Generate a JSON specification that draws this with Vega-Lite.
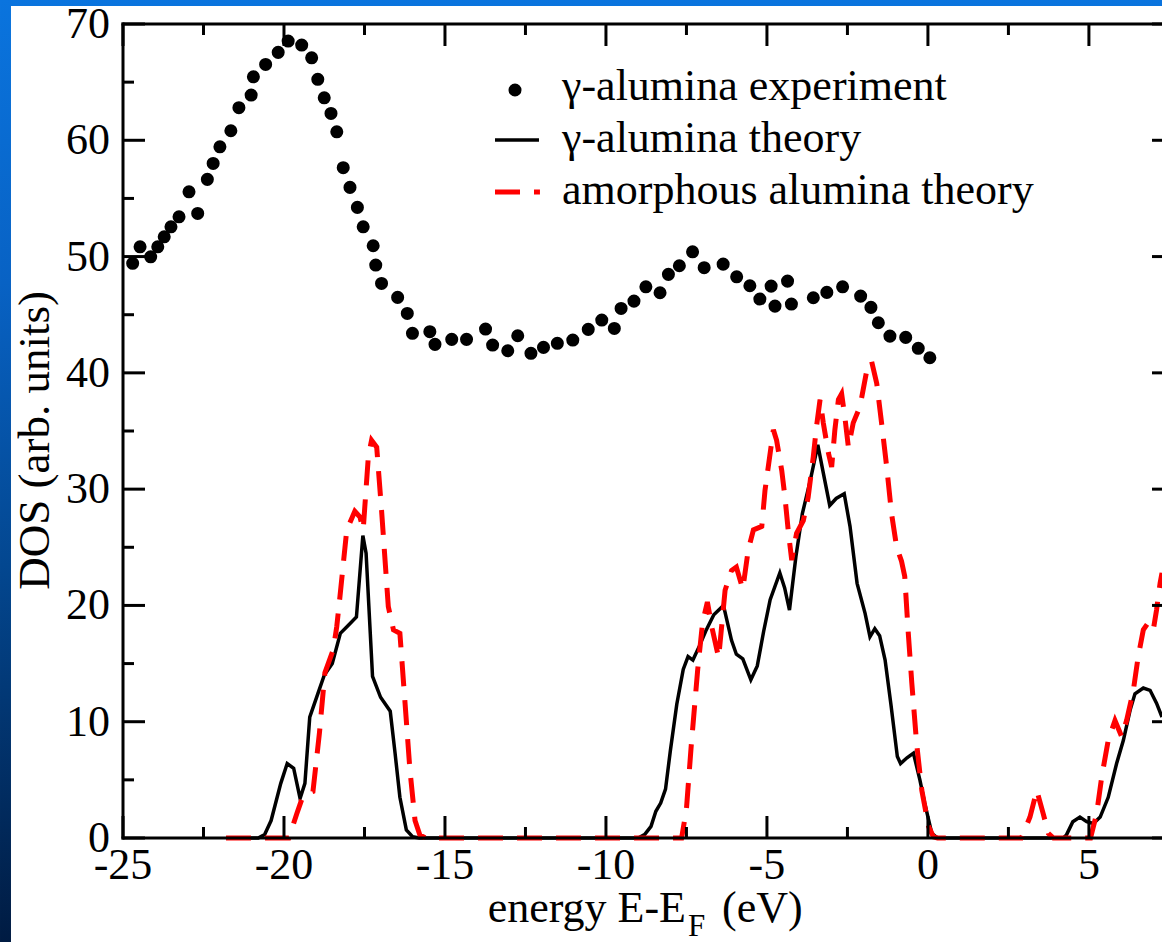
{
  "$schema": "https://vega.github.io/schema/vega-lite/v6.json",
  "autosize": {"type": "none"},
  "width": 1039,
  "height": 814,
  "padding": {"left": 123, "top": 24, "right": 0, "bottom": 104},
  "background": "white",
  "config": {"view": {"stroke": null}},
  "datasets": {
    "xmajor": [{"v": -25, "label": "-25"}, {"v": -20, "label": "-20"}, {"v": -15, "label": "-15"}, {"v": -10, "label": "-10"}, {"v": -5, "label": "-5"}, {"v": 0, "label": "0"}, {"v": 5, "label": "5"}],
    "xminor": [{"v": -22.5}, {"v": -17.5}, {"v": -12.5}, {"v": -7.5}, {"v": -2.5}, {"v": 2.5}],
    "ymajor": [{"v": 0, "label": "0"}, {"v": 10, "label": "10"}, {"v": 20, "label": "20"}, {"v": 30, "label": "30"}, {"v": 40, "label": "40"}, {"v": 50, "label": "50"}, {"v": 60, "label": "60"}, {"v": 70, "label": "70"}],
    "yminor": [{"v": 5}, {"v": 15}, {"v": 25}, {"v": 35}, {"v": 45}, {"v": 55}, {"v": 65}],
    "experiment": [
      {"E": -24.70, "DOS": 49.42}, {"E": -24.47, "DOS": 50.84}, {"E": -24.14, "DOS": 49.98}, {"E": -23.92, "DOS": 50.84},
      {"E": -23.72, "DOS": 51.70}, {"E": -23.51, "DOS": 52.56}, {"E": -23.26, "DOS": 53.42}, {"E": -22.95, "DOS": 55.57},
      {"E": -22.68, "DOS": 53.71}, {"E": -22.38, "DOS": 56.64}, {"E": -22.20, "DOS": 58.01}, {"E": -21.99, "DOS": 59.44},
      {"E": -21.65, "DOS": 60.82}, {"E": -21.40, "DOS": 62.80}, {"E": -21.02, "DOS": 63.89}, {"E": -20.95, "DOS": 65.46},
      {"E": -20.57, "DOS": 66.52}, {"E": -20.18, "DOS": 67.56}, {"E": -19.87, "DOS": 68.53}, {"E": -19.45, "DOS": 68.19},
      {"E": -19.14, "DOS": 67.09}, {"E": -18.95, "DOS": 65.24}, {"E": -18.75, "DOS": 63.65}, {"E": -18.54, "DOS": 62.31},
      {"E": -18.36, "DOS": 60.73}, {"E": -18.16, "DOS": 57.64}, {"E": -17.95, "DOS": 55.95}, {"E": -17.72, "DOS": 54.23},
      {"E": -17.54, "DOS": 52.56}, {"E": -17.23, "DOS": 50.93}, {"E": -17.15, "DOS": 49.27}, {"E": -16.97, "DOS": 47.69},
      {"E": -16.47, "DOS": 46.49}, {"E": -16.17, "DOS": 45.11}, {"E": -16.01, "DOS": 43.40}, {"E": -15.47, "DOS": 43.54},
      {"E": -15.31, "DOS": 42.45}, {"E": -14.79, "DOS": 42.88}, {"E": -14.33, "DOS": 42.88}, {"E": -13.74, "DOS": 43.77},
      {"E": -13.52, "DOS": 42.39}, {"E": -13.05, "DOS": 41.90}, {"E": -12.74, "DOS": 43.19}, {"E": -12.33, "DOS": 41.68},
      {"E": -11.94, "DOS": 42.19}, {"E": -11.51, "DOS": 42.54}, {"E": -11.03, "DOS": 42.82}, {"E": -10.55, "DOS": 43.74},
      {"E": -10.13, "DOS": 44.54}, {"E": -9.74, "DOS": 43.82}, {"E": -9.53, "DOS": 45.54}, {"E": -9.13, "DOS": 46.17},
      {"E": -8.76, "DOS": 47.40}, {"E": -8.32, "DOS": 46.89}, {"E": -8.06, "DOS": 48.47}, {"E": -7.72, "DOS": 49.21},
      {"E": -7.31, "DOS": 50.41}, {"E": -6.95, "DOS": 49.04}, {"E": -6.36, "DOS": 49.35}, {"E": -5.94, "DOS": 48.26},
      {"E": -5.53, "DOS": 47.49}, {"E": -5.22, "DOS": 46.35}, {"E": -4.87, "DOS": 47.46}, {"E": -4.75, "DOS": 45.74},
      {"E": -4.36, "DOS": 47.89}, {"E": -4.24, "DOS": 45.92}, {"E": -3.56, "DOS": 46.46}, {"E": -3.14, "DOS": 46.92},
      {"E": -2.65, "DOS": 47.40}, {"E": -2.09, "DOS": 46.60}, {"E": -1.77, "DOS": 45.63}, {"E": -1.54, "DOS": 44.31},
      {"E": -1.18, "DOS": 43.16}, {"E": -0.69, "DOS": 43.05}, {"E": -0.30, "DOS": 42.11}, {"E": 0.06, "DOS": 41.30}
    ],
    "gammatheory": [
      {"E": -21.8, "DOS": 0}, {"E": -20.8, "DOS": 0}, {"E": -20.6, "DOS": 0.3}, {"E": -20.4, "DOS": 1.5},
      {"E": -20.1, "DOS": 4.7}, {"E": -19.9, "DOS": 6.4}, {"E": -19.7, "DOS": 6.0}, {"E": -19.5, "DOS": 3.4},
      {"E": -19.35, "DOS": 4.7}, {"E": -19.2, "DOS": 10.4}, {"E": -18.95, "DOS": 12.4}, {"E": -18.75, "DOS": 14.0},
      {"E": -18.5, "DOS": 15.0}, {"E": -18.25, "DOS": 17.6}, {"E": -18.0, "DOS": 18.3}, {"E": -17.75, "DOS": 19.0},
      {"E": -17.55, "DOS": 26.0}, {"E": -17.45, "DOS": 24.5}, {"E": -17.25, "DOS": 13.9}, {"E": -17.0, "DOS": 12.1},
      {"E": -16.7, "DOS": 10.9}, {"E": -16.55, "DOS": 7.3}, {"E": -16.4, "DOS": 3.5}, {"E": -16.2, "DOS": 0.7},
      {"E": -16.0, "DOS": 0.1}, {"E": -15.8, "DOS": 0}, {"E": -9.0, "DOS": 0}, {"E": -8.8, "DOS": 0.3},
      {"E": -8.6, "DOS": 1.0}, {"E": -8.45, "DOS": 2.3}, {"E": -8.3, "DOS": 3.0}, {"E": -8.15, "DOS": 4.2},
      {"E": -8.0, "DOS": 7.5}, {"E": -7.8, "DOS": 11.5}, {"E": -7.6, "DOS": 14.5}, {"E": -7.45, "DOS": 15.6},
      {"E": -7.3, "DOS": 15.3}, {"E": -7.1, "DOS": 16.5}, {"E": -6.9, "DOS": 17.8}, {"E": -6.65, "DOS": 19.2},
      {"E": -6.35, "DOS": 20.0}, {"E": -6.1, "DOS": 17.0}, {"E": -5.95, "DOS": 15.8}, {"E": -5.75, "DOS": 15.4},
      {"E": -5.5, "DOS": 13.6}, {"E": -5.3, "DOS": 14.8}, {"E": -5.1, "DOS": 17.8}, {"E": -4.9, "DOS": 20.5},
      {"E": -4.6, "DOS": 22.8}, {"E": -4.45, "DOS": 21.5}, {"E": -4.3, "DOS": 19.6}, {"E": -4.1, "DOS": 24.2},
      {"E": -3.9, "DOS": 27.9}, {"E": -3.65, "DOS": 30.8}, {"E": -3.42, "DOS": 33.8}, {"E": -3.25, "DOS": 31.4},
      {"E": -3.05, "DOS": 28.6}, {"E": -2.85, "DOS": 29.2}, {"E": -2.6, "DOS": 29.6}, {"E": -2.42, "DOS": 26.8},
      {"E": -2.2, "DOS": 21.9}, {"E": -1.95, "DOS": 19.3}, {"E": -1.8, "DOS": 17.3}, {"E": -1.65, "DOS": 18.0},
      {"E": -1.5, "DOS": 17.4}, {"E": -1.33, "DOS": 15.3}, {"E": -1.15, "DOS": 11.5}, {"E": -0.95, "DOS": 7.0},
      {"E": -0.85, "DOS": 6.4}, {"E": -0.65, "DOS": 6.9}, {"E": -0.45, "DOS": 7.3}, {"E": -0.25, "DOS": 5.0},
      {"E": -0.1, "DOS": 3.0}, {"E": 0.12, "DOS": 0.4}, {"E": 0.3, "DOS": 0}, {"E": 4.2, "DOS": 0},
      {"E": 4.3, "DOS": 0.25}, {"E": 4.5, "DOS": 1.4}, {"E": 4.72, "DOS": 1.8}, {"E": 4.93, "DOS": 1.4},
      {"E": 5.14, "DOS": 1.25}, {"E": 5.35, "DOS": 1.8}, {"E": 5.6, "DOS": 3.5}, {"E": 5.86, "DOS": 6.4},
      {"E": 6.07, "DOS": 8.4}, {"E": 6.28, "DOS": 11.0}, {"E": 6.43, "DOS": 12.4}, {"E": 6.69, "DOS": 12.9},
      {"E": 6.9, "DOS": 12.7}, {"E": 7.1, "DOS": 11.6}, {"E": 7.27, "DOS": 10.4}
    ],
    "amorphoustheory": [
      {"E": -21.8, "DOS": 0}, {"E": -19.85, "DOS": 0}, {"E": -19.6, "DOS": 2.1}, {"E": -19.45, "DOS": 3.3},
      {"E": -19.3, "DOS": 3.8}, {"E": -19.1, "DOS": 4.0}, {"E": -18.9, "DOS": 9.0}, {"E": -18.73, "DOS": 14.2},
      {"E": -18.47, "DOS": 16.2}, {"E": -18.36, "DOS": 18.2}, {"E": -18.26, "DOS": 20.8}, {"E": -18.05, "DOS": 26.5},
      {"E": -17.8, "DOS": 28.1}, {"E": -17.64, "DOS": 27.6}, {"E": -17.54, "DOS": 26.5}, {"E": -17.38, "DOS": 32.8},
      {"E": -17.28, "DOS": 34.2}, {"E": -17.12, "DOS": 33.6}, {"E": -16.97, "DOS": 28.2}, {"E": -16.76, "DOS": 19.9},
      {"E": -16.6, "DOS": 17.9}, {"E": -16.4, "DOS": 17.6}, {"E": -16.24, "DOS": 11.6}, {"E": -16.09, "DOS": 5.9},
      {"E": -15.93, "DOS": 1.5}, {"E": -15.78, "DOS": 0.25}, {"E": -15.6, "DOS": 0}, {"E": -7.65, "DOS": 0},
      {"E": -7.5, "DOS": 2.5}, {"E": -7.35, "DOS": 8.0}, {"E": -7.15, "DOS": 14.5}, {"E": -7.0, "DOS": 18.5},
      {"E": -6.85, "DOS": 20.3}, {"E": -6.7, "DOS": 18.0}, {"E": -6.5, "DOS": 15.5}, {"E": -6.3, "DOS": 21.3},
      {"E": -6.1, "DOS": 23.0}, {"E": -5.95, "DOS": 23.3}, {"E": -5.75, "DOS": 21.4}, {"E": -5.58, "DOS": 24.8},
      {"E": -5.42, "DOS": 26.5}, {"E": -5.16, "DOS": 26.8}, {"E": -5.06, "DOS": 29.9}, {"E": -4.96, "DOS": 31.9},
      {"E": -4.8, "DOS": 35.1}, {"E": -4.7, "DOS": 34.2}, {"E": -4.54, "DOS": 31.6}, {"E": -4.44, "DOS": 29.3},
      {"E": -4.33, "DOS": 26.2}, {"E": -4.23, "DOS": 23.9}, {"E": -4.08, "DOS": 26.2}, {"E": -3.87, "DOS": 27.3},
      {"E": -3.72, "DOS": 29.3}, {"E": -3.56, "DOS": 32.8}, {"E": -3.46, "DOS": 35.4}, {"E": -3.35, "DOS": 37.7},
      {"E": -3.25, "DOS": 35.7}, {"E": -3.09, "DOS": 33.1}, {"E": -2.99, "DOS": 31.9}, {"E": -2.89, "DOS": 35.1},
      {"E": -2.78, "DOS": 37.7}, {"E": -2.68, "DOS": 38.2}, {"E": -2.58, "DOS": 36.2}, {"E": -2.47, "DOS": 33.6},
      {"E": -2.32, "DOS": 35.7}, {"E": -2.11, "DOS": 37.1}, {"E": -1.9, "DOS": 40.2}, {"E": -1.75, "DOS": 41.0},
      {"E": -1.59, "DOS": 39.1}, {"E": -1.44, "DOS": 35.7}, {"E": -1.28, "DOS": 31.9}, {"E": -1.13, "DOS": 27.9},
      {"E": -0.97, "DOS": 25.0}, {"E": -0.82, "DOS": 23.8}, {"E": -0.72, "DOS": 22.5}, {"E": -0.62, "DOS": 18.0},
      {"E": -0.5, "DOS": 13.3}, {"E": -0.35, "DOS": 8.1}, {"E": -0.19, "DOS": 4.1}, {"E": 0.02, "DOS": 1.0},
      {"E": 0.17, "DOS": 0.1}, {"E": 0.3, "DOS": 0}, {"E": 2.9, "DOS": 0}, {"E": 3.17, "DOS": 1.8},
      {"E": 3.38, "DOS": 4.1}, {"E": 3.58, "DOS": 2.1}, {"E": 3.74, "DOS": 0.4}, {"E": 3.9, "DOS": 0},
      {"E": 5.05, "DOS": 0}, {"E": 5.24, "DOS": 2.1}, {"E": 5.4, "DOS": 5.3}, {"E": 5.6, "DOS": 8.4},
      {"E": 5.81, "DOS": 10.1}, {"E": 6.02, "DOS": 8.7}, {"E": 6.17, "DOS": 10.1}, {"E": 6.38, "DOS": 12.7},
      {"E": 6.53, "DOS": 15.6}, {"E": 6.69, "DOS": 17.9}, {"E": 6.84, "DOS": 18.5}, {"E": 7.0, "DOS": 17.9},
      {"E": 7.1, "DOS": 19.6}, {"E": 7.21, "DOS": 21.9}, {"E": 7.27, "DOS": 22.8}
    ]
  },
  "layer": [
    {
      "data": {"values": [{}]},
      "mark": {"type": "rect", "fill": {"gradient": "linear", "x1": 0, "y1": 0, "x2": 0, "y2": 1, "stops": [
        {"offset": 0, "color": "#0a74de"}, {"offset": 0.3, "color": "#0862c4"}, {"offset": 0.6, "color": "#034790"}, {"offset": 1, "color": "#001b42"}]}},
      "encoding": {
        "x": {"datum": -28.82, "type": "quantitative", "scale": {"domain": [-25, 7.27], "nice": false, "zero": false}, "axis": null},
        "x2": {"datum": 7.6},
        "y": {"datum": 72.07, "type": "quantitative", "scale": {"domain": [0, 70], "nice": false, "zero": false}, "axis": null},
        "y2": {"datum": -8.95}
      }
    },
    {
      "data": {"values": [{}]},
      "mark": {"type": "rect", "fill": "white"},
      "encoding": {
        "x": {"datum": -28.479, "type": "quantitative", "axis": null},
        "x2": {"datum": 7.6},
        "y": {"datum": 71.548, "type": "quantitative", "axis": null},
        "y2": {"datum": -8.95}
      }
    },
    {
      "data": {"name": "gammatheory"},
      "mark": {"type": "line", "color": "black", "strokeWidth": 3.5},
      "encoding": {
        "x": {"field": "E", "type": "quantitative", "axis": null},
        "y": {"field": "DOS", "type": "quantitative", "axis": null}
      }
    },
    {
      "data": {"name": "amorphoustheory"},
      "mark": {"type": "line", "color": "#ff0000", "strokeWidth": 5, "strokeDash": [25, 14]},
      "encoding": {
        "x": {"field": "E", "type": "quantitative", "axis": null},
        "y": {"field": "DOS", "type": "quantitative", "axis": null}
      }
    },
    {
      "data": {"name": "experiment"},
      "mark": {"type": "point", "filled": true, "size": 170, "opacity": 1, "shape": "circle", "color": "black"},
      "encoding": {
        "x": {"field": "E", "type": "quantitative", "axis": null},
        "y": {"field": "DOS", "type": "quantitative", "axis": null}
      }
    },
    {
      "data": {"values": [{}]},
      "mark": {"type": "rule", "color": "black", "strokeWidth": 3, "strokeCap": "square"},
      "encoding": {"x": {"datum": -25, "type": "quantitative", "axis": null}, "x2": {"datum": 7.6}, "y": {"datum": 70, "type": "quantitative", "axis": null}}
    },
    {
      "data": {"values": [{}]},
      "mark": {"type": "rule", "color": "black", "strokeWidth": 3, "strokeCap": "square"},
      "encoding": {"x": {"datum": -25, "type": "quantitative", "axis": null}, "x2": {"datum": 7.6}, "y": {"datum": 0, "type": "quantitative", "axis": null}}
    },
    {
      "data": {"values": [{}]},
      "mark": {"type": "rule", "color": "black", "strokeWidth": 3, "strokeCap": "square"},
      "encoding": {"x": {"datum": -25, "type": "quantitative", "axis": null}, "y": {"datum": 0, "type": "quantitative", "axis": null}, "y2": {"datum": 70}}
    },
    {
      "data": {"name": "xmajor"},
      "mark": {"type": "rule", "color": "black", "strokeWidth": 3},
      "encoding": {"x": {"field": "v", "type": "quantitative", "axis": null}, "y": {"datum": 0, "type": "quantitative", "axis": null}, "y2": {"datum": 1.892}}
    },
    {
      "data": {"name": "xminor"},
      "mark": {"type": "rule", "color": "black", "strokeWidth": 3},
      "encoding": {"x": {"field": "v", "type": "quantitative", "axis": null}, "y": {"datum": 0, "type": "quantitative", "axis": null}, "y2": {"datum": 0.946}}
    },
    {
      "data": {"name": "xmajor"},
      "mark": {"type": "rule", "color": "black", "strokeWidth": 3},
      "encoding": {"x": {"field": "v", "type": "quantitative", "axis": null}, "y": {"datum": 70, "type": "quantitative", "axis": null}, "y2": {"datum": 68.108}}
    },
    {
      "data": {"name": "xminor"},
      "mark": {"type": "rule", "color": "black", "strokeWidth": 3},
      "encoding": {"x": {"field": "v", "type": "quantitative", "axis": null}, "y": {"datum": 70, "type": "quantitative", "axis": null}, "y2": {"datum": 69.054}}
    },
    {
      "data": {"name": "ymajor"},
      "mark": {"type": "rule", "color": "black", "strokeWidth": 3},
      "encoding": {"y": {"field": "v", "type": "quantitative", "axis": null}, "x": {"datum": -25, "type": "quantitative", "axis": null}, "x2": {"datum": -24.317}}
    },
    {
      "data": {"name": "yminor"},
      "mark": {"type": "rule", "color": "black", "strokeWidth": 3},
      "encoding": {"y": {"field": "v", "type": "quantitative", "axis": null}, "x": {"datum": -25, "type": "quantitative", "axis": null}, "x2": {"datum": -24.658}}
    },
    {
      "data": {"name": "ymajor"},
      "mark": {"type": "rule", "color": "black", "strokeWidth": 3},
      "encoding": {"y": {"field": "v", "type": "quantitative", "axis": null}, "x": {"datum": 7.643, "type": "quantitative", "axis": null}, "x2": {"datum": 6.96}}
    },
    {
      "data": {"name": "xmajor"},
      "mark": {"type": "text", "font": "Liberation Serif", "fontSize": 44, "align": "center", "baseline": "alphabetic", "color": "black"},
      "encoding": {"x": {"field": "v", "type": "quantitative", "axis": null}, "y": {"datum": -3.55, "type": "quantitative", "axis": null}, "text": {"field": "label"}}
    },
    {
      "data": {"name": "ymajor"},
      "mark": {"type": "text", "font": "Liberation Serif", "fontSize": 44, "align": "right", "baseline": "middle", "dy": 1, "color": "black"},
      "encoding": {"y": {"field": "v", "type": "quantitative", "axis": null}, "x": {"datum": -25.404, "type": "quantitative", "axis": null}, "text": {"field": "label"}}
    },
    {
      "data": {"values": [{}]},
      "mark": {"type": "text", "text": "DOS (arb. units)", "font": "Liberation Serif", "fontSize": 45, "angle": 270, "align": "center", "baseline": "alphabetic", "color": "black"},
      "encoding": {"x": {"datum": -27.298, "type": "quantitative", "axis": null}, "y": {"datum": 34.2, "type": "quantitative", "axis": null}}
    },
    {
      "data": {"values": [{}]},
      "mark": {"type": "point", "filled": true, "size": 170, "opacity": 1, "shape": "circle", "color": "black"},
      "encoding": {"x": {"datum": -12.825, "type": "quantitative", "axis": null}, "y": {"datum": 64.324, "type": "quantitative", "axis": null}}
    },
    {
      "data": {"values": [{}]},
      "mark": {"type": "rule", "color": "black", "strokeWidth": 3.5},
      "encoding": {"x": {"datum": -13.446, "type": "quantitative", "axis": null}, "x2": {"datum": -12.08}, "y": {"datum": 60.025, "type": "quantitative", "axis": null}}
    },
    {
      "data": {"values": [{}]},
      "mark": {"type": "rule", "color": "#ff0000", "strokeWidth": 5, "strokeDash": [25, 14]},
      "encoding": {"x": {"datum": -13.446, "type": "quantitative", "axis": null}, "x2": {"datum": -12.05}, "y": {"datum": 55.553, "type": "quantitative", "axis": null}}
    },
    {
      "data": {"values": [{}]},
      "mark": {"type": "text", "text": "γ-alumina experiment", "font": "Liberation Serif", "fontSize": 44, "align": "left", "baseline": "alphabetic", "color": "black"},
      "encoding": {"x": {"datum": -11.365, "type": "quantitative", "axis": null}, "y": {"datum": 63.464, "type": "quantitative", "axis": null}}
    },
    {
      "data": {"values": [{}]},
      "mark": {"type": "text", "text": "γ-alumina theory", "font": "Liberation Serif", "fontSize": 44, "align": "left", "baseline": "alphabetic", "color": "black"},
      "encoding": {"x": {"datum": -11.365, "type": "quantitative", "axis": null}, "y": {"datum": 58.993, "type": "quantitative", "axis": null}}
    },
    {
      "data": {"values": [{}]},
      "mark": {"type": "text", "text": "amorphous alumina theory", "font": "Liberation Serif", "fontSize": 44, "align": "left", "baseline": "alphabetic", "color": "black"},
      "encoding": {"x": {"datum": -11.365, "type": "quantitative", "axis": null}, "y": {"datum": 54.521, "type": "quantitative", "axis": null}}
    },
    {
      "data": {"values": [{}]},
      "mark": {"type": "text", "text": "energy E-E", "font": "Liberation Serif", "fontSize": 44, "align": "right", "baseline": "alphabetic", "color": "black"},
      "encoding": {"x": {"datum": -7.514, "type": "quantitative", "axis": null}, "y": {"datum": -7.22, "type": "quantitative", "axis": null}}
    },
    {
      "data": {"values": [{}]},
      "mark": {"type": "text", "text": "F", "font": "Liberation Serif", "fontSize": 31, "align": "left", "baseline": "alphabetic", "color": "black"},
      "encoding": {"x": {"datum": -7.452, "type": "quantitative", "axis": null}, "y": {"datum": -8.4, "type": "quantitative", "axis": null}}
    },
    {
      "data": {"values": [{}]},
      "mark": {"type": "text", "text": "(eV)", "font": "Liberation Serif", "fontSize": 44, "align": "left", "baseline": "alphabetic", "color": "black"},
      "encoding": {"x": {"datum": -6.396, "type": "quantitative", "axis": null}, "y": {"datum": -7.22, "type": "quantitative", "axis": null}}
    }
  ]
}
